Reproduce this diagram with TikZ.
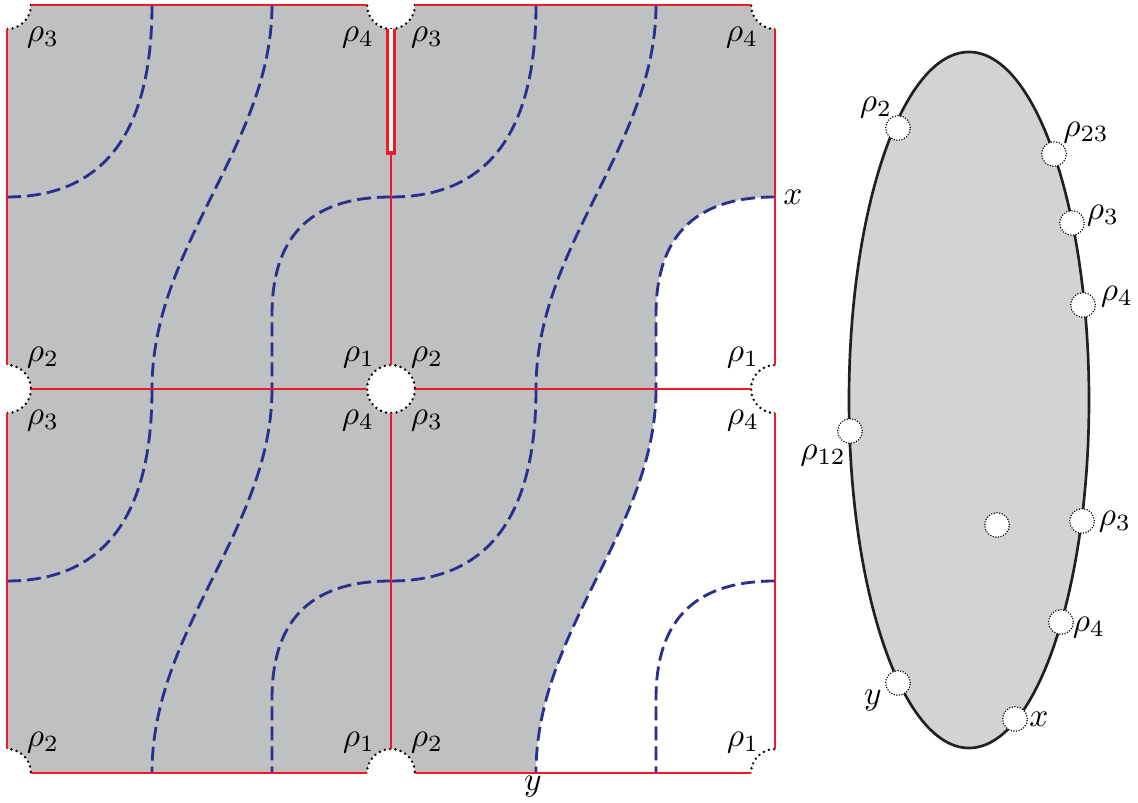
\documentclass[tikz,border=0pt]{standalone}
\usepackage{xcolor}
\definecolor{sqgray}{RGB}{191,192,194}
\definecolor{elgray}{RGB}{210,211,213}
\definecolor{ellline}{RGB}{35,31,32}
\definecolor{bred}{RGB}{237,28,36}
\definecolor{dblue}{RGB}{43,46,143}
\begin{document}
\begin{tikzpicture}[x=0.3pt,y=-0.3pt,
  redline/.style={draw=bred,line width=0.85pt},
  bluedash/.style={draw=dblue,line width=0.85pt,dash pattern=on 4.2pt off 1.8pt},
  holedots/.style={draw=black,line width=0.8pt,line cap=round,dash pattern=on 0pt off 1.6pt},
  lab/.style={inner sep=0pt},
  pt/.style={circle,draw=black,fill=white,line width=0.35pt,dash pattern=on 0.35pt off 0.45pt,minimum size=7.4pt,inner sep=0pt}]
\useasboundingbox (0,0) rectangle (1138,803);
% grey square
\fill[sqgray] (7,5) rectangle (775,773);
% white region
\fill[white] (775,197) .. controls (701,197) and (656,230) .. (656,315) -- (656,389)
  .. controls (656,529) and (536,629) .. (536,773) -- (775,773) -- cycle;
% dashed curves
\foreach \ox/\oy in {7/5,391/5,7/389,391/389}{
  \begin{scope}[shift={(\ox,\oy)}]
    \draw[bluedash] (0,192) .. controls (95,192) and (145,130) .. (145,0);
    \draw[bluedash] (265,0) .. controls (265,140) and (145,240) .. (145,384);
    \draw[bluedash] (384,192) .. controls (310,192) and (265,225) .. (265,310) -- (265,384);
  \end{scope}}
% holes
\begin{scope}
  \clip (7,5) rectangle (775,773);
  \foreach \hx/\hy in {7/5,391/5,775/5,7/389,391/389,775/389,7/773,391/773,775/773}{
    \fill[white] (\hx,\hy) circle (24);
    \draw[holedots] (\hx,\hy) circle (24);}
\end{scope}
% red edges
\draw[redline] (31,5) -- (367,5) (415,5) -- (751,5);
\draw[redline] (31,773) -- (367,773) (415,773) -- (751,773);
\draw[redline] (7,29) -- (7,365) (7,413) -- (7,749);
\draw[redline] (775,29) -- (775,365) (775,413) -- (775,749);
\draw[redline] (31,389) -- (367,389) (415,389) -- (751,389);
\draw[redline] (391,153) -- (391,365) (391,413) -- (391,749);
% slit
\draw[bred,line width=0.95pt,fill=white] (387.5,29) -- (387.5,153) -- (394.5,153) -- (394.5,29);
% labels square
\node[lab] (a1) at (43,38) {$\rho_3$};
\node[lab] (a2) at (358,38) {$\rho_4$};
\node[lab] (a3) at (427,38) {$\rho_3$};
\node[lab] (a4) at (742,38) {$\rho_4$};
\node[lab] (b1) at (43,358) {$\rho_2$};
\node[lab] (b2) at (359,358) {$\rho_1$};
\node[lab] (b3) at (427,358) {$\rho_2$};
\node[lab] (b4) at (743,358) {$\rho_1$};
\node[lab] (c1) at (43,421) {$\rho_3$};
\node[lab] (c2) at (358,421) {$\rho_4$};
\node[lab] (c3) at (427,421) {$\rho_3$};
\node[lab] (c4) at (743,421) {$\rho_4$};
\node[lab] (d1) at (43,743) {$\rho_2$};
\node[lab] (d2) at (359,743) {$\rho_1$};
\node[lab] (d3) at (427,743) {$\rho_2$};
\node[lab] (d4) at (743,743) {$\rho_1$};
\node[lab] (lx) at (793,197) {$x$};
\node[lab] (ly) at (533,787) {$y$};
% ellipse
\draw[ellline,fill=elgray,line width=0.8pt] (969,400) ellipse [x radius=120,y radius=348];
\node[pt] (e2) at (898,128) {};
\node[pt] (e23) at (1054,154) {};
\node[pt] (e3) at (1072,223) {};
\node[pt] (e4) at (1083,305) {};
\node[pt] (e12) at (850,431) {};
\node[pt] (ec) at (997,525) {};
\node[pt] (e3b) at (1082,521) {};
\node[pt] (e4b) at (1061,622) {};
\node[pt] (ey) at (898,683) {};
\node[pt] (ex) at (1015,719) {};
\node[lab] (le2) at (876,108) {$\rho_2$};
\node[lab] (le23) at (1086,133) {$\rho_{23}$};
\node[lab] (le3) at (1103,216) {$\rho_3$};
\node[lab] (le4) at (1117,297) {$\rho_4$};
\node[lab] (le12) at (823,456) {$\rho_{12}$};
\node[lab] (le3b) at (1115,522) {$\rho_3$};
\node[lab] (le4b) at (1089,628) {$\rho_4$};
\node[lab] (ley) at (873,701) {$y$};
\node[lab] (lex) at (1039,719) {$x$};
\end{tikzpicture}
\end{document}
